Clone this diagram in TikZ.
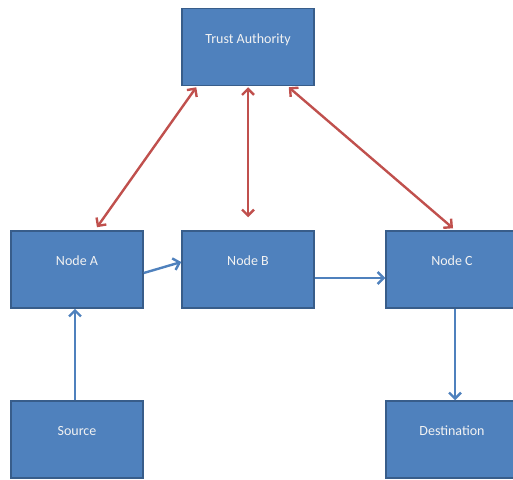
\documentclass[tikz,border=0pt]{standalone}
\usepackage{fontspec}
\setmainfont{Carlito}
\usetikzlibrary{arrows.meta,positioning}
\definecolor{boxfill}{HTML}{4F81BD}
\definecolor{boxline}{HTML}{385D8A}
\definecolor{trustlink}{HTML}{C0504D}
\definecolor{datalink}{HTML}{4F81BD}
\definecolor{boxtext}{HTML}{F2F2F2}

\begin{document}
\begin{tikzpicture}[x=1pt,y=-1pt,
  block/.style={draw=boxline,fill=boxfill,line width=1.5pt,minimum width=132pt,minimum height=77pt,
    text=boxtext,font=\fontsize{14}{16}\selectfont,text height=9pt,text depth=17pt},
  trust/.style={trustlink,line width=2.4pt,{Straight Barb[length=6pt,width=12pt]}-{Straight Barb[length=6pt,width=12pt]}},
  flow/.style={datalink,line width=2.4pt,-{Straight Barb[length=6pt,width=12pt]}}]
  \useasboundingbox (0,0) rectangle (513,479);
  \clip (0,0) rectangle (513,479);

  % Nodes
  \node[block] (ta) at (248,47) {Trust Authority};
  \node[block] (a) at (77,269.5) {Node A};
  \node[block] (b) at (248,269.5) {Node B};
  \node[block] (c) at (452,269.5) {Node C};
  \node[block] (src) at (77,439.5) {Source};
  \node[block] (dst) at (452,439.5) {Destination};

  % Trust links
  \draw[trust] ([xshift=15pt,yshift=-1pt]ta.south west) -- ([xshift=20pt,yshift=3pt]a.north);
  \draw[trust] ([yshift=-1pt]ta.south) -- ([yshift=13pt]b.north);
  \draw[trust] ([xshift=-26pt,yshift=-1pt]ta.south east) -- ([xshift=1pt,yshift=2pt]c.north);

  % Data path
  \draw[flow] ([xshift=-2pt]src.north) -- ([xshift=-2pt]a.south);
  \draw[flow] ([yshift=-3.5pt]a.east) -- ([yshift=7.5pt]b.west);
  \draw[flow] ([yshift=-8.5pt]b.east) -- ([yshift=-8.5pt]c.west);
  \draw[flow] ([xshift=3pt]c.south) -- ([xshift=3pt]dst.north);
\end{tikzpicture}
\end{document}
